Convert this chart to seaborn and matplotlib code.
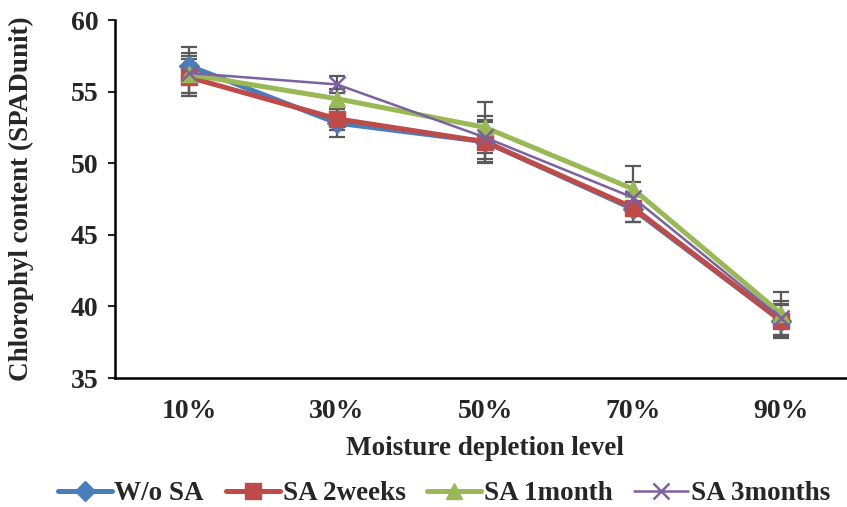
import matplotlib
matplotlib.use("Agg")
import matplotlib.pyplot as plt
import numpy as np
import pandas as pd
import seaborn as sns

levels = ["10%", "30%", "50%", "70%", "90%"]
series = ["W/o SA", "SA 2weeks", "SA 1month", "SA 3months"]

wo_sa = [56.8, 52.8, 51.5, 46.8, 39.0]
sa_2weeks = [56.0, 53.1, 51.5, 46.9, 39.0]
sa_1month = [56.2, 54.5, 52.5, 48.2, 39.5]
sa_3months = [56.3, 55.5, 51.8, 47.6, 39.2]

err_wo_sa = [1.3, 1.0, 1.5, 0.9, 1.2]
err_2weeks = [1.3, 0.8, 1.4, 1.0, 1.1]
err_1month = [1.3, 0.7, 1.8, 1.6, 1.5]
err_3months = [1.4, 0.6, 1.5, 1.1, 1.2]

values = [wo_sa, sa_2weeks, sa_1month, sa_3months]
errors = [err_wo_sa, err_2weeks, err_1month, err_3months]
colors = ["#4A7EBB", "#BE4B48", "#98B954", "#7D60A0"]
markers = ["D", "s", "^", "x"]
widths = [3.6, 3.6, 3.6, 1.8]
msizes = [10, 11, 11, 12]

rows = []
for name, vals in zip(series, values):
    for i, v in enumerate(vals):
        rows.append({"pos": i, "level": levels[i], "series": name, "value": v})
df = pd.DataFrame(rows)

sns.set_style("white")
plt.rcParams["font.family"] = ["Liberation Serif", "DejaVu Serif"]
plt.rcParams["font.weight"] = "bold"

fig = plt.figure(figsize=(8.47, 5.07), dpi=100)
ax = fig.add_axes([115 / 847, 1 - 378 / 507, 740 / 847, 358 / 507])

# error bars first, behind the lines
for vals, errs in zip(values, errors):
    ax.errorbar(range(len(levels)), vals, yerr=errs, fmt="none",
                ecolor="#595959", elinewidth=1.6, capsize=5.5, capthick=1.6,
                zorder=1)

for name, c, m, lw, ms in zip(series, colors, markers, widths, msizes):
    sub = df[df["series"] == name]
    sns.lineplot(data=sub, x="pos", y="value", ax=ax, color=c, lw=lw,
                 marker=m, markersize=ms, markeredgecolor=c,
                 markeredgewidth=1.8 if m == "x" else 1, label=name, zorder=3)

ax.set_xlim(-0.5, len(levels) - 0.5)
ax.set_ylim(35, 60)
ax.set_yticks([35, 40, 45, 50, 55, 60])
ax.set_xticks(range(len(levels)))
ax.set_xticklabels(levels)
ax.tick_params(axis="y", length=5, width=1.5, pad=7, labelsize=20, left=True)
ax.tick_params(axis="x", length=0, pad=15, labelsize=20)
for t in ax.get_xticklabels() + ax.get_yticklabels():
    t.set_fontweight("bold")

for s in ["top", "right"]:
    ax.spines[s].set_visible(False)
for s in ["left", "bottom"]:
    ax.spines[s].set_color("black")
    ax.spines[s].set_linewidth(1.8)

ax.set_xlabel("Moisture depletion level", fontsize=19.5, fontweight="bold")
ax.set_ylabel("Chlorophyl content (SPADunit)", fontsize=19.5,
              fontweight="bold")
ax.xaxis.set_label_coords(0.5, -(436 - 378) / 358)
ax.yaxis.set_label_coords(-(115 - 34) / 740, 0.5)

leg = ax.legend(loc="center", bbox_to_anchor=(444 / 847, 13 / 507),
                bbox_transform=fig.transFigure, ncol=4, frameon=False,
                prop={"size": 19.5, "weight": "bold"}, handlelength=2.0,
                handletextpad=0.1, columnspacing=0.8, borderaxespad=0)

fig.savefig("out.png", dpi=100)
